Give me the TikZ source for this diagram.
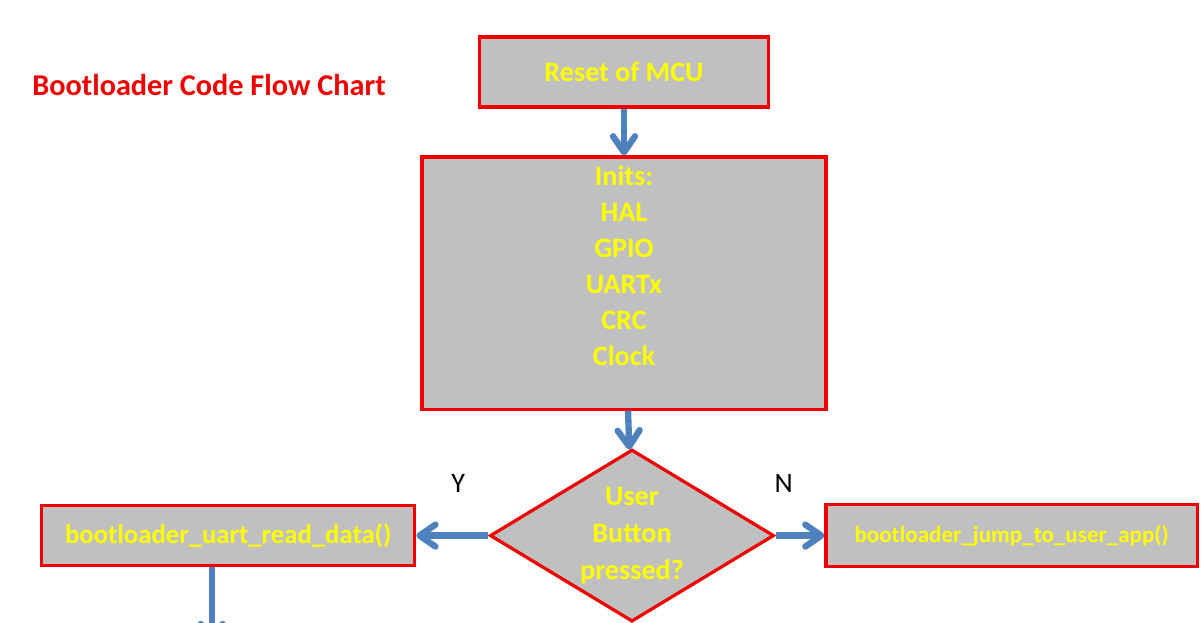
\documentclass[tikz,border=0pt]{standalone}
\usepackage{fontspec}
\setmainfont{Carlito}
\usepackage{xcolor}
\usepackage{tikz}
\usetikzlibrary{shapes.geometric,arrows.meta,positioning,calc}

\definecolor{boxgray}{RGB}{192,192,192}
\definecolor{boxred}{RGB}{238,0,0}
\definecolor{textyellow}{RGB}{255,255,0}
\definecolor{flowblue}{RGB}{79,129,189}

\begin{document}
\begin{tikzpicture}[
    x=0.025cm, y=-0.025cm,
    node distance=1.25cm,
    box/.style={rectangle, draw=boxred, line width=2.3pt, fill=boxgray, inner sep=0pt, align=center, text=textyellow, font=\bfseries\fontsize{20}{25.6}\selectfont},
    boxtext/.style={inner sep=0pt, align=center, text=textyellow, font=\bfseries\fontsize{20}{25.6}\selectfont},
    decision/.style={diamond, draw=boxred, line width=2.3pt, fill=boxgray, inner sep=0pt, aspect=1.66, align=center, text=textyellow, font=\bfseries\fontsize{20}{26.3}\selectfont},
    arrow/.style={-{Straight Barb[length=4mm, width=5.5mm, round]}, line width=4.5pt, draw=flowblue},
    yn/.style={inner sep=0pt, font=\fontsize{20}{24}\selectfont}
]
\useasboundingbox (0,0) rectangle (1204,623);
\clip (0,0) rectangle (1204,623);

% Title
\node[inner sep=0pt, text=boxred, font=\bfseries\fontsize{21.5}{26}\selectfont] (title) at (209,85) {Bootloader Code Flow Chart};

% Start
\node[box, minimum width=7.225cm, minimum height=1.75cm] (reset) at (624,72) {Reset of MCU};
\node[box, minimum width=10.1cm, minimum height=6.3cm, below=1.17cm of reset] (inits) {};
\node[boxtext, below=0.24cm of inits.north] (initslist) {Inits:\\HAL\\GPIO\\UARTx\\CRC\\Clock};

% Decision
\node[decision, minimum width=7.1cm, minimum height=4.3cm, below=0.93cm of inits, xshift=0.2cm] (button) {User\\Button\\pressed?};
\node[box, minimum width=9.325cm, minimum height=1.5cm, left=1.8cm of button, font=\bfseries\fontsize{19}{23}\selectfont] (readdata) {bootloader\_uart\_read\_data()};
\node[box, minimum width=9.275cm, minimum height=1.55cm, right=1.22cm of button, font=\bfseries\fontsize{16.4}{20}\selectfont] (jumpapp) {bootloader\_jump\_to\_user\_app()};

% Branch labels
\node[yn] (yes) at ([xshift=-0.75cm, yshift=1.3cm]button.west) {Y};
\node[yn] (no) at ([xshift=0.2cm, yshift=1.3cm]button.east) {N};

% Arrows
\draw[arrow] (reset) -- (inits);
\draw[arrow] (inits) -- (button);
\draw[arrow] (button) -- (readdata);
\draw[arrow] (button) -- (jumpapp);
\coordinate[below=1.9cm of readdata.south, xshift=-0.41cm] (next);
\draw[arrow] (readdata.south -| next) -- (next);

\end{tikzpicture}
\end{document}
